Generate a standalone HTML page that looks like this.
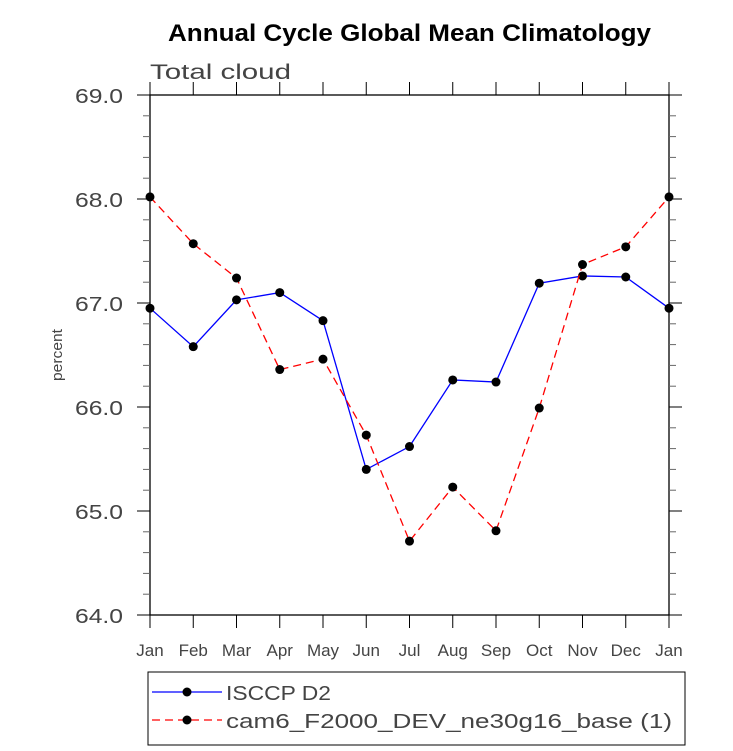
<!DOCTYPE html>
<html><head><meta charset="utf-8"><style>
body{margin:0;background:#fff}
svg{display:block;font-family:"Liberation Sans",sans-serif}
</style></head><body>
<svg id="chart" width="733" height="751">
<text x="168" y="41" font-size="24" font-weight="bold" textLength="483" lengthAdjust="spacingAndGlyphs">Annual Cycle Global Mean Climatology</text>
<text x="150" y="79" font-size="21" fill="#444" textLength="141" lengthAdjust="spacingAndGlyphs">Total cloud</text>
<text transform="translate(62,355) rotate(-90)" text-anchor="middle" font-size="15" fill="#444" textLength="52" lengthAdjust="spacingAndGlyphs">percent</text>
<g id="axes"></g><g id="series"></g>
<rect x="148" y="672" width="537" height="73" fill="none" stroke="#000" stroke-width="1"/>
<g>
<line x1="152" y1="692" x2="222" y2="692" stroke="#00f" stroke-width="1.3"/><circle cx="187" cy="692" r="4.5"/>
<text x="226" y="700" font-size="20" fill="#444" textLength="105" lengthAdjust="spacingAndGlyphs">ISCCP D2</text></g>
<g>
<line x1="152" y1="720" x2="222" y2="720" stroke="#f00" stroke-width="1.3" stroke-dasharray="8,5"/><circle cx="187" cy="720" r="4.5"/>
<text x="226" y="728" font-size="20" fill="#444" textLength="446" lengthAdjust="spacingAndGlyphs">cam6_F2000_DEV_ne30g16_base (1)</text></g>
</svg>
<script>
const months=["Jan","Feb","Mar","Apr","May","Jun","Jul","Aug","Sep","Oct","Nov","Dec","Jan"];
const isccp=[66.95,66.58,67.03,67.10,66.83,65.40,65.62,66.26,66.24,67.19,67.26,67.25,66.95];
const cam6=[68.02,67.57,67.24,66.36,66.46,65.73,64.71,65.23,64.81,65.99,67.37,67.54,68.02];
const yTicks=[64,65,66,67,68,69];
const NS="http://www.w3.org/2000/svg";
const X0=150,X1=669,Y0=615,Y1=95;
const xs=i=>X0+i*(X1-X0)/12;
const ys=v=>Y0-(v-64)*(Y0-Y1)/5;
function mk(t,a,p){const e=document.createElementNS(NS,t);for(const k in a)e.setAttribute(k,a[k]);p.appendChild(e);return e;}
const ax=document.getElementById('axes');
const fr=mk('rect',{x:X0,y:Y1,width:X1-X0,height:Y0-Y1,fill:'none',stroke:'#000','stroke-width':1.3},ax);


for(let v=64;v<=69.001;v+=0.2){const y=ys(v);const maj=Math.abs(v-Math.round(v))<0.01;const L=maj?13:7;
 mk('line',{x1:X0-L,y1:y,x2:X0,y2:y,stroke:maj?'#000':'#666','stroke-width':1},ax);
 mk('line',{x1:X1,y1:y,x2:X1+L,y2:y,stroke:maj?'#000':'#666','stroke-width':1},ax);}
yTicks.forEach(v=>{const t=mk('text',{x:123,y:ys(v)+8,'text-anchor':'end','font-size':20,fill:'#444',textLength:48,lengthAdjust:'spacingAndGlyphs'},ax);t.textContent=v.toFixed(1);
 
 });
months.forEach((m,i)=>{const x=xs(i);
 mk('line',{x1:x,y1:Y0,x2:x,y2:Y0+13,stroke:'#000'},ax);
 mk('line',{x1:x,y1:Y1,x2:x,y2:Y1-13,stroke:'#000'},ax);
 const t=mk('text',{x:x,y:656,'text-anchor':'middle','font-size':17,fill:'#444'},ax);t.textContent=m;
 
 });
const sg=document.getElementById('series');
function draw(d,col,dash,name){
 const g=mk('g',{},sg);
 
 
 mk('polyline',{points:d.map((v,i)=>xs(i)+','+ys(v)).join(' '),fill:'none',stroke:col,'stroke-width':1.3,'stroke-dasharray':dash},g);
 d.forEach((v,i)=>{const c=mk('circle',{cx:xs(i),cy:ys(v),r:4.5,fill:'#000'},g);
  
  });
}
draw(isccp,'#00f','none','series-isccp');
draw(cam6,'#f00','8,5','series-cam6');
</script>
</body></html>
